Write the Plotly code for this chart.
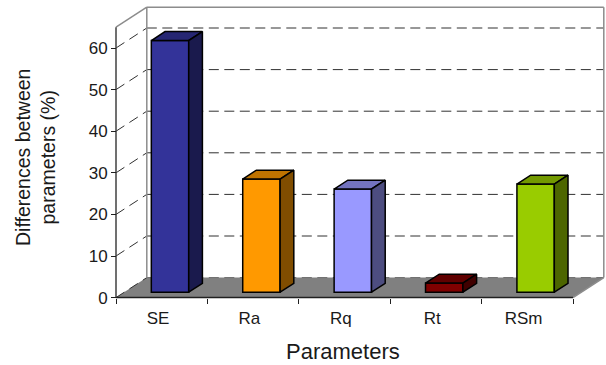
import plotly.graph_objects as go

# Measured results per roughness parameter
categories = ["SE", "Ra", "Rq", "Rt", "RSm"]
differences = [60.5, 27.2, 24.8, 2.2, 26.0]
front_colors = ["#333399", "#FF9900", "#9999FF", "#800000", "#99CC00"]
top_colors = ["#262673", "#BF7300", "#7373BF", "#600000", "#739900"]
side_colors = ["#1A1A4D", "#804D00", "#4D4D80", "#400000", "#4D6600"]
y_ticks = [0, 10, 20, 30, 40, 50, 60]
y_top = 65

# Pixel scale of one category and one percent; the figure fills the whole page
W, H = 606, 365
PX_X, PX_Y = 91.4, 4.16
ORIGIN_X, ORIGIN_Y = 116, 297.6

# Oblique projection: full depth of the chart box expressed in axis units
DEPTH_X, DEPTH_Y = 30.8 / PX_X, 20.0 / PX_Y
BAR_NEAR, BAR_FAR = 0.27, 0.715
BAR_WIDTH = 0.409
n = len(categories)
TEXT = "#1a1a1a"
WALL = "#8c8c8c"

fig = go.Figure()
shapes = []


def poly(points):
    return "M" + " L".join(f"{x},{y}" for x, y in points) + " Z"


# Floor of the box
shapes.append(dict(type="path", layer="below", line=dict(width=0), fillcolor="#808080",
                   path=poly([(0, 0), (DEPTH_X, DEPTH_Y), (n + DEPTH_X, DEPTH_Y), (n, 0)])))

# Gridlines along the side and back walls
for v in y_ticks:
    color = "#6a6a6a" if v == 0 else "#303030"
    shapes.append(dict(type="line", layer="below", x0=0, y0=v, x1=DEPTH_X, y1=v + DEPTH_Y,
                       line=dict(color="#303030", width=1, dash="10px,6px")))
    shapes.append(dict(type="line", layer="below", x0=DEPTH_X, y0=v + DEPTH_Y, x1=n + DEPTH_X, y1=v + DEPTH_Y,
                       line=dict(color=color, width=1, dash="10px,5.5px")))

# Outline of the walls
wall_lines = [
    ((DEPTH_X, DEPTH_Y), (DEPTH_X, y_top + DEPTH_Y)),
    ((0, y_top), (DEPTH_X, y_top + DEPTH_Y)),
    ((DEPTH_X, y_top + DEPTH_Y), (n + DEPTH_X, y_top + DEPTH_Y)),
    ((n + DEPTH_X, y_top + DEPTH_Y), (n + DEPTH_X, DEPTH_Y)),
    ((n, 0), (n + DEPTH_X, DEPTH_Y)),
]
for (x0, y0), (x1, y1) in wall_lines:
    shapes.append(dict(type="line", layer="below", x0=x0, y0=y0, x1=x1, y1=y1,
                       line=dict(color=WALL, width=1.5)))

# Front axis lines
shapes.append(dict(type="line", layer="below", x0=0, y0=0, x1=0, y1=y_top, line=dict(color="#404040", width=1.5)))
shapes.append(dict(type="line", layer="below", x0=0, y0=0, x1=n, y1=0, line=dict(color="#202020", width=1.5)))

# Front faces of the columns
base = BAR_NEAR * DEPTH_Y
fig.add_trace(go.Bar(
    x=[i + 0.5 + BAR_NEAR * DEPTH_X for i in range(n)],
    y=differences,
    base=base,
    width=BAR_WIDTH,
    marker=dict(color=front_colors, line=dict(color="#000000", width=1.5)),
    hoverinfo="skip",
))

# Top and side faces derived from each column's value
span_x, span_y = (BAR_FAR - BAR_NEAR) * DEPTH_X, (BAR_FAR - BAR_NEAR) * DEPTH_Y
for i, v in enumerate(differences):
    left = i + 0.5 + BAR_NEAR * DEPTH_X - BAR_WIDTH / 2
    right = left + BAR_WIDTH
    top = base + v
    faces = [
        ([left, left + span_x, right + span_x, right, left], [top, top + span_y, top + span_y, top, top], top_colors[i]),
        ([right, right + span_x, right + span_x, right, right], [base, base + span_y, top + span_y, top, base], side_colors[i]),
    ]
    for xs, ys, c in faces:
        fig.add_trace(go.Scatter(x=xs, y=ys, mode="lines", fill="toself", fillcolor=c,
                                 line=dict(color="#000000", width=1.5), hoverinfo="skip"))

font = "Liberation Sans, Arial, sans-serif"
fig.update_layout(
    width=W, height=H,
    margin=dict(l=0, r=0, t=0, b=0, pad=0),
    paper_bgcolor="white", plot_bgcolor="white",
    showlegend=False,
    shapes=shapes,
    font=dict(family=font, color=TEXT),
    xaxis=dict(
        range=[-ORIGIN_X / PX_X, (W - ORIGIN_X) / PX_X],
        domain=[0, 1],
        anchor="free", position=(H - ORIGIN_Y) / H,
        showgrid=False, zeroline=False, showline=False,
        tickmode="array",
        tickvals=[i + 0.46 for i in range(n)],
        ticktext=categories,
        ticks="outside", ticklen=0, tickcolor="rgba(0,0,0,0)",
        tickfont=dict(size=17, family=font, color=TEXT),
        ticklabelstandoff=5,
        minor=dict(tickvals=list(range(n + 1)), ticks="outside", ticklen=5, tickwidth=1, tickcolor="#202020", showgrid=False),
    ),
    yaxis=dict(
        range=[-(H - ORIGIN_Y) / PX_Y, ORIGIN_Y / PX_Y],
        domain=[0, 1],
        anchor="free", position=ORIGIN_X / W,
        showgrid=False, zeroline=False, showline=False,
        tickmode="array", tickvals=y_ticks,
        ticks="outside", ticklen=5, tickwidth=1, tickcolor="#202020",
        tickfont=dict(size=17, family=font, color=TEXT),
    ),
    annotations=[
        dict(text="Parameters", xref="paper", yref="paper", x=343.5 / W, y=1 - 351 / H,
             xanchor="center", yanchor="middle", showarrow=False, font=dict(size=22, family=font, color=TEXT)),
        dict(text="Differences between<br>parameters (%)", xref="paper", yref="paper", x=35 / W, y=1 - 158 / H,
             xanchor="center", yanchor="middle", showarrow=False, textangle=-90,
             font=dict(size=19.5, family=font, color=TEXT)),
    ],
)

fig.write_html("out.html")
